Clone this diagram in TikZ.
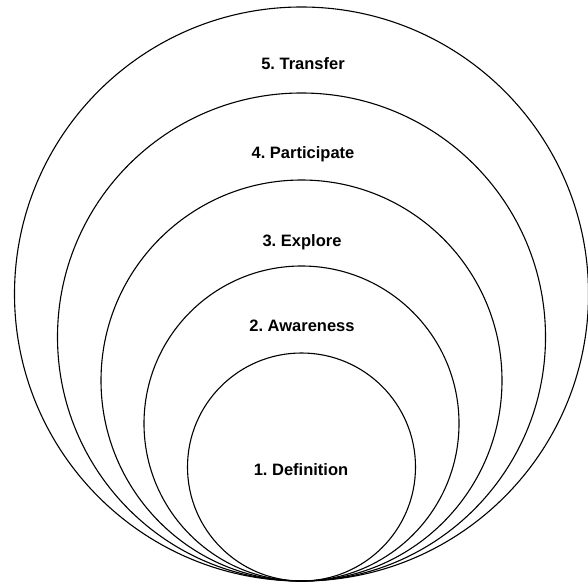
\documentclass[tikz,border=0pt]{standalone}
\usepackage{fontspec}
\setmainfont{Liberation Sans}
\frenchspacing
\begin{document}
\begin{tikzpicture}[x=1pt,y=-1pt,
  ring/.style={draw=black,line width=1.1pt},
  lbl/.style={font=\fontsize{16.5}{19}\selectfont\bfseries,inner sep=0pt,anchor=base}]
\useasboundingbox (0,0) rectangle (588,583);
\fill[white] (0,0) rectangle (588,583);
\draw[ring] (301.5,294) circle[radius=287];
\draw[ring] (301.5,337) circle[radius=244];
\draw[ring] (301.5,380.5) circle[radius=200.5];
\draw[ring] (301.5,423.5) circle[radius=157.5];
\draw[ring] (301.5,467) circle[radius=114];
\node[lbl] (l5) at (303,69.5) {5. Transfer};
\node[lbl] (l4) at (303,158) {4. Participate};
\node[lbl] (l3) at (302,246) {3. Explore};
\node[lbl] (l2) at (302,331) {2. Awareness};
\node[lbl] (l1) at (301,475) {1. Definition};
\end{tikzpicture}
\end{document}
